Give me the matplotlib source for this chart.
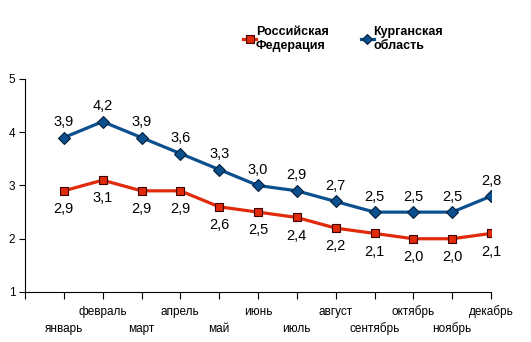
import matplotlib.pyplot as plt
from matplotlib.lines import Line2D

plt.rcParams['font.family'] = ['Liberation Sans', 'DejaVu Sans']

months = ["январь", "февраль", "март", "апрель", "май", "июнь",
          "июль", "август", "сентябрь", "октябрь", "ноябрь", "декабрь"]
rf = [2.9, 3.1, 2.9, 2.9, 2.6, 2.5, 2.4, 2.2, 2.1, 2.0, 2.0, 2.1]
kurgan = [3.9, 4.2, 3.9, 3.6, 3.3, 3.0, 2.9, 2.7, 2.5, 2.5, 2.5, 2.8]

red = "#E02A0A"
blue = "#0B4F8E"

fig = plt.figure(figsize=(5.31, 3.42), dpi=100)
ax = fig.add_axes([25 / 531, 1 - 292 / 342, 466 / 531, 213 / 342])

x = list(range(1, 13))
ax.plot(x, rf, color=red, lw=2.3, marker="s", ms=6, mfc=red, mec="#400000", mew=0.8)
ax.plot(x, kurgan, color=blue, lw=2.3, marker="D", ms=6.5, mfc=blue, mec="#05203a", mew=0.8)

for xi, v in zip(x, rf):
    ax.annotate(f"{v:.1f}".replace(".", ","), (xi, v), xytext=(0, -8), textcoords="offset points",
                ha="center", va="top", fontsize=10.5)
for xi, v in zip(x, kurgan):
    ax.annotate(f"{v:.1f}".replace(".", ","), (xi, v), xytext=(0, 6), textcoords="offset points",
                ha="center", va="bottom", fontsize=10.5)

ax.set_xlim(0, 12)
ax.set_ylim(1, 5)
ax.set_yticks([1, 2, 3, 4, 5])
ax.set_xticks(range(0, 13))
ax.set_xticklabels([])
ax.tick_params(axis="y", direction="out", length=4, labelsize=8.5, pad=3)
ax.tick_params(axis="x", direction="out", length=5)
for s in ["top", "right"]:
    ax.spines[s].set_visible(False)

for i, m in enumerate(months):
    yoff = -31 if i % 2 == 0 else -19
    ax.annotate(m, (x[i], 1), xytext=(0, yoff), textcoords="offset points",
                ha="center", va="bottom", fontsize=8.5, annotation_clip=False)

handles = [Line2D([], [], color=red, lw=2.3, marker="s", ms=6, mfc=red, mec="#400000", mew=0.8),
           Line2D([], [], color=blue, lw=2.3, marker="D", ms=5, mfc=blue, mec="#05203a", mew=0.8)]
fig.legend(handles, ["Российская\nФедерация", "Курганская\nобласть"], ncol=2,
           loc="upper left", bbox_to_anchor=(232 / 531, 1 - 15 / 342), frameon=False,
           handlelength=1.0, handletextpad=0.0, columnspacing=2.6,
           prop={"weight": "bold", "size": 9})

fig.savefig("out.png", dpi=100)
